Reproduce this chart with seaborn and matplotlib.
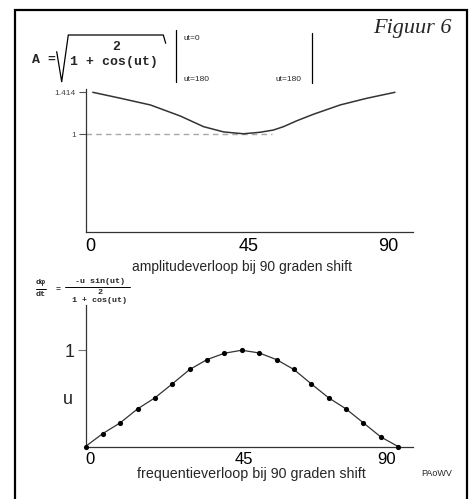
import numpy as np
import pandas as pd
import matplotlib
matplotlib.use("Agg")
import matplotlib.pyplot as plt
import matplotlib.transforms as mtransforms
from matplotlib.lines import Line2D
from matplotlib.patches import Rectangle
import seaborn as sns

# ---------------- data ----------------
amp_x = [2.1, 10.1, 18.7, 27.3, 34.0, 39.8, 45.5, 50.3, 54.1, 57.0, 60.9, 65.6, 73.3, 81.0, 89.1]
amp_y = [1.414, 1.355, 1.289, 1.180, 1.075, 1.023, 1.005, 1.02, 1.042, 1.075, 1.134, 1.197, 1.289, 1.355, 1.414]
ref_x = [0, 53.8]
ref_y = [1, 1]

freq_x = [0, 5, 10, 15, 20, 25, 30, 35, 40, 45, 50, 55, 60, 65, 70, 75, 80, 85, 90]
freq_y = [0, 0.135, 0.246, 0.391, 0.506, 0.651, 0.80, 0.903, 0.969, 1.0, 0.972,
          0.903, 0.80, 0.651, 0.506, 0.391, 0.246, 0.10, 0]

x_ticks = [0, 45, 90]
x_tick_labels = ["0", "45", "90"]
top_y_ticks = [1.414, 1]
top_y_labels = ["1.414", "1"]
bot_y_ticks = [1]
bot_y_labels = ["1"]

# ---------------- style ----------------
sns.set_theme(style="white")
plt.rcParams['font.family'] = ['Liberation Sans', 'DejaVu Sans']

W, H = 475, 499
fig = plt.figure(figsize=(W / 100, H / 100), dpi=100)


def fx(px):
    return px / W


def fy(py):
    return 1 - py / H


def rect(l, t, r, b):
    return [fx(l), fy(b), (r - l) / W, (b - t) / H]


# frame
fig.add_artist(Rectangle((fx(15), fy(502)), fx(467) - fx(15), fy(10) - fy(502),
                         transform=fig.transFigure, fill=False, ec="black", lw=1.6))

ax1 = fig.add_axes(rect(85.5, 89, 413, 232))
ax2 = fig.add_axes(rect(85.5, 305, 413, 446.5))

amp_df = pd.DataFrame({"x": amp_x, "y": amp_y})
ref_df = pd.DataFrame({"x": ref_x, "y": ref_y})
freq_df = pd.DataFrame({"x": freq_x, "y": freq_y})

sns.lineplot(data=ref_df, x="x", y="y", ax=ax1, color="#a8a8a8", lw=1.0,
             linestyle=(0, (4, 3)))
sns.lineplot(data=amp_df, x="x", y="y", ax=ax1, color="#333333", lw=1.1)
sns.lineplot(data=freq_df, x="x", y="y", ax=ax2, color="#333333", lw=0.9)
sns.scatterplot(data=freq_df, x="x", y="y", ax=ax2, color="black", s=14,
                edgecolor="black", linewidth=0, zorder=5, clip_on=False)

ax1.set_xlim(0, 94.3)
ax1.set_ylim(0.0365, 1.4465)
ax2.set_xlim(0, 94.3)
ax2.set_ylim(0, 1.47)

for ax, fs, shifts in ((ax1, 13, [5, 6.5, -10]), (ax2, 12, [5, 2.5, -12])):
    for s in ("top", "right"):
        ax.spines[s].set_visible(False)
    for s in ("left", "bottom"):
        ax.spines[s].set_color("#333333")
        ax.spines[s].set_linewidth(0.9)
    ax.set_xlabel("")
    ax.set_ylabel("")
    ax.set_xticks(x_ticks)
    ax.set_xticklabels(x_tick_labels, fontsize=fs)
    ax.tick_params(axis="x", length=0, pad=4, colors="black")
    for lab, dx in zip(ax.get_xticklabels(), shifts):
        lab.set_transform(lab.get_transform() +
                          mtransforms.ScaledTranslation(dx / 100, 0, fig.dpi_scale_trans))

ax1.set_yticks(top_y_ticks)
ax1.set_yticklabels(top_y_labels, fontsize=6, color="#444444")
ax1.tick_params(axis="y", length=5, width=0.8, color="#555555", pad=2, left=True)

ax2.set_yticks(bot_y_ticks)
ax2.set_yticklabels(bot_y_labels, fontsize=13)
ax2.tick_params(axis="y", length=6, width=0.8, color="#777777", pad=2, left=True)

# axis captions
fig.text(fx(242), fy(267), "amplitudeverloop bij 90 graden shift", fontsize=10,
         ha="center", va="center")
fig.text(fx(251), fy(474), "frequentieverloop bij 90 graden shift", fontsize=10.3,
         ha="center", va="center")
fig.text(fx(68), fy(400), "u", fontsize=13, ha="center", va="center")
fig.text(fx(437), fy(473), "PAoWV", fontsize=6.5, ha="center", va="center")
fig.text(fx(412), fy(28), "Figuur 6", fontsize=16, ha="center", va="center",
         family="Liberation Serif", style="italic")

# top formula
mono = ['Liberation Mono', 'DejaVu Sans Mono']
fig.text(fx(32), fy(60), "A =", fontsize=9.5, family=mono, weight="bold",
         ha="left", va="center")
fig.text(fx(70), fy(62), "1 + cos(ut)", fontsize=9.5, family=mono, weight="bold",
         ha="left", va="center")
fig.text(fx(116), fy(47), "2", fontsize=9.5, family=mono, weight="bold",
         ha="center", va="center")
rad_px = [(56.7, 51.7), (61.7, 81.7), (68.3, 35), (163.3, 35), (165.7, 43.3)]
fig.add_artist(Line2D([fx(p[0]) for p in rad_px], [fy(p[1]) for p in rad_px],
                      transform=fig.transFigure, color="black", lw=0.9))
fig.add_artist(Line2D([fx(176), fx(176)], [fy(30), fy(82)],
                      transform=fig.transFigure, color="black", lw=0.9))
fig.add_artist(Line2D([fx(312), fx(312)], [fy(33), fy(83)],
                      transform=fig.transFigure, color="black", lw=0.9))
fig.text(fx(183), fy(38), "ut=0", fontsize=6, ha="left", va="center")
fig.text(fx(183), fy(80), "ut=180", fontsize=6, ha="left", va="center")
fig.text(fx(275), fy(80), "ut=180", fontsize=6, ha="left", va="center")

# bottom formula
fig.text(fx(41), fy(283), "d\u03c6", fontsize=6, family=mono, weight="bold",
         ha="center", va="center")
fig.text(fx(41), fy(295), "dt", fontsize=6, family=mono, weight="bold",
         ha="center", va="center")
fig.add_artist(Line2D([fx(36), fx(46)], [fy(289), fy(289)],
                      transform=fig.transFigure, color="black", lw=0.7))
fig.text(fx(58), fy(289), "=", fontsize=6, family=mono, weight="bold",
         ha="center", va="center")
fig.text(fx(100), fy(281.5), "-u sin(ut)", fontsize=6, family=mono, weight="bold",
         ha="center", va="center")
fig.add_artist(Line2D([fx(65), fx(130)], [fy(286.5), fy(286.5)],
                      transform=fig.transFigure, color="black", lw=0.7))
fig.text(fx(100), fy(292), "2", fontsize=6, family=mono, weight="bold",
         ha="center", va="center")
fig.text(fx(100), fy(300), "1 + cos(ut)", fontsize=6, family=mono, weight="bold",
         ha="center", va="center")

fig.savefig("out.png", dpi=100)
